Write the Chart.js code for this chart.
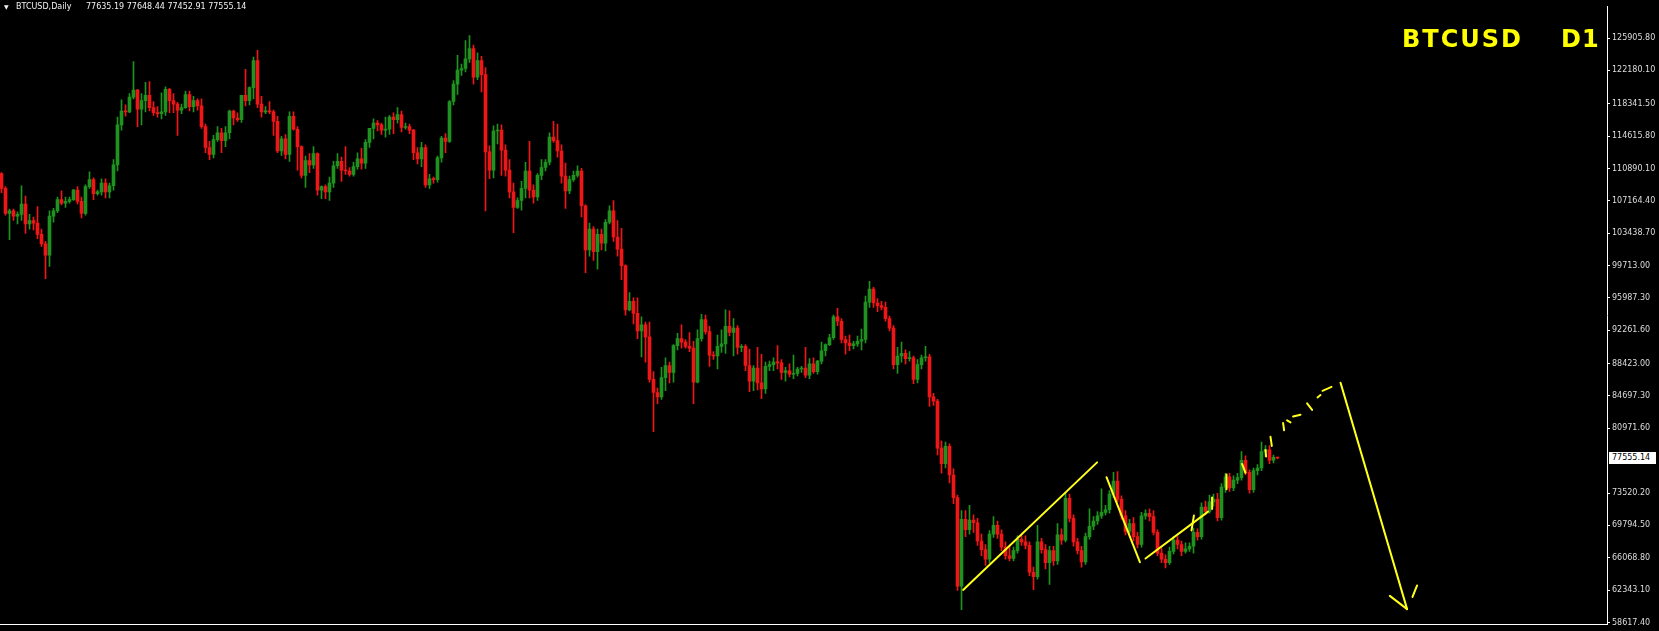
<!DOCTYPE html>
<html>
<head>
<meta charset="utf-8">
<script src="https://cdn.jsdelivr.net/npm/chart.js@4.4.1/dist/chart.umd.min.js"></script>
<style>
html,body{margin:0;padding:0;background:#000;overflow:hidden;}
#wrap{position:relative;width:1659px;height:631px;background:#000;}
canvas{display:block;}
.t{position:absolute;white-space:pre;font-family:"DejaVu Sans",sans-serif;}
#tri{left:4px;top:3px;font-size:6px;line-height:8px;color:#f2f2f2;}
#ttl{left:16px;top:3px;font-size:8px;line-height:8px;color:#f2f2f2;}
#ohlc{left:86px;top:3px;font-size:8px;line-height:8px;color:#f2f2f2;}
#sym,#tf{font-family:"DejaVu Sans",sans-serif;font-weight:bold;font-size:24px;line-height:24px;letter-spacing:2px;color:#ffff00;top:27px;}
#sym{left:1402px;}
#tf{left:1561px;letter-spacing:1px;}
#ptag{left:1609px;width:44px;height:12px;background:#ffffff;color:#000;font-size:8px;line-height:12px;padding-left:3px;}
</style>
</head>
<body>
<div id="wrap">
<canvas id="c" width="1659" height="631"></canvas>
<div class="t" id="tri">▼</div>
<div class="t" id="ttl"></div>
<div class="t" id="ohlc"></div>
<div class="t" id="sym"></div>
<div class="t" id="tf"></div>
<div class="t" id="ptag"></div>
</div>
<script>
// ---------- DATA ----------
const symbolName = 'BTCUSD';
const periodName = 'Daily';
const periodShort = 'D1';

const opens = [
110300,108600,105700,106000,105400,105600,106800,104500,104900,104600,
103300,102200,100900,105400,106000,107300,106900,107100,107300,108400,
107100,105700,108800,109600,108000,108200,109200,108200,108900,111300,
115900,117500,117400,119100,119900,117700,118700,119300,117900,117300,
117200,117400,120000,118700,118300,117600,117900,119400,118000,118700,
118100,115700,113300,112500,114200,115000,114100,115000,117500,116700,
116500,119300,118700,120200,123300,118300,117400,117500,117400,116300,
112900,114300,112500,116900,115400,113400,110100,111800,111300,112600,
108400,108800,108200,109200,111200,111700,110700,110600,110200,111100,
112000,111500,113900,115500,116100,115900,115300,115400,116800,116500,
117100,115600,115700,115300,112700,112000,113300,109000,109700,109600,
112100,114400,114000,118600,120600,122200,122400,123500,124700,121400,
123300,121700,112800,110700,115200,115300,113000,110700,108200,106400,
107200,108600,110600,108400,107600,110100,111000,111600,114500,114100,
112900,110000,108300,109600,110100,110600,106600,101500,103900,101300,
103300,102300,104700,106000,103000,101600,99700,94600,95600,94200,
92200,92900,91500,86600,85100,84600,86800,88200,87400,90500,
91300,90900,90400,90200,86300,91300,93500,92100,89400,89300,
90400,90700,92700,92000,92500,90300,90400,88200,86400,87900,
86200,85500,88100,88300,88600,88500,87400,87600,87200,87300,
87800,87900,87100,88400,87500,88700,89900,90600,91400,93800,
93300,91200,90800,90500,90700,91000,91200,95500,97000,95400,
95100,94900,93600,92500,88300,89300,89600,89000,89100,86600,
88300,89100,89200,84600,84100,78700,76900,78900,75600,73000,
62800,70500,69300,70400,70100,68000,67000,65900,68800,69800,
68800,67300,66300,66000,66900,68200,67900,67500,64400,63900,
67900,67000,65500,66900,65700,68700,68100,72900,70600,67900,
66900,65600,68500,69700,70300,70900,71300,71600,73400,74900,
72800,70900,69100,70000,68500,67600,70900,71200,70800,69000,
66600,65900,65500,66800,68100,67600,66800,67100,67400,69000,
68500,71900,71400,72500,72800,70700,74200,75400,74100,75000,
75300,77300,75900,73900,76100,76400,78300,78500,77300,77635.19];

const highs = [
110400,108800,106200,106200,105900,108900,107700,105600,105300,106500,
103900,102500,106000,106300,107600,108300,107600,107600,108500,108800,
107600,109000,110500,109800,108400,109700,109700,109200,111900,116800,
118800,118200,119500,123200,120000,119500,120800,120900,118600,118000,
119600,120300,120100,119500,118500,118300,119800,119800,119200,118900,
118900,116000,114000,114700,115700,115500,115700,117600,117600,117300,
119300,122300,120300,123700,124500,119200,118000,118600,117600,116900,
114600,114800,117400,117400,115700,113500,112300,112600,113400,112700,
108900,109000,109900,111700,112600,112200,113400,111000,111600,112700,
113200,114200,115500,116600,116400,116100,116800,117000,117300,117900,
117500,116100,116000,115400,113300,113900,113600,110200,109900,112300,
114600,114900,118700,121000,123900,122900,125600,126200,125100,124200,
123800,122500,113500,115800,116000,115900,113600,111900,109200,107500,
109400,111600,114000,109000,110300,111900,111900,115000,116300,116000,
113600,111500,110000,110600,111200,110900,106700,104600,104200,103900,
103900,105000,106600,107200,104900,104000,99800,96600,96000,96000,
93800,93200,93200,87500,85600,88000,89100,88600,90600,91900,
92900,91200,92000,91000,92300,94100,94000,92700,89800,91700,
92300,94600,94500,93600,92800,90600,90600,90100,88200,90300,
89500,88600,88700,89100,90500,88900,88000,88400,89400,88000,
88100,90300,89000,89100,88800,90900,90700,91800,94000,94800,
93600,91600,91700,91000,91600,92400,96200,97900,97200,95900,
95600,95500,93900,92800,90300,90900,90000,89800,89300,88900,
89400,90400,89500,85000,84300,79500,79400,79200,76300,73300,
71500,71500,72100,71000,70600,68800,67600,69200,70800,70300,
69300,67900,67400,67300,68600,68700,68600,67900,65000,69800,
68300,67600,67400,67400,70000,69400,73600,73400,71000,68300,
67400,68900,71700,70800,71400,74000,72100,73800,75900,76000,
73200,71500,70500,70700,69000,71300,71600,71700,71500,69300,
67200,66400,67300,68500,68500,68000,67800,67800,69500,69400,
72400,72600,73300,73400,73500,74600,75800,75800,75500,75800,
78300,77800,76200,76400,76800,79400,79000,79000,77900,77648.44];

const lows = [
108100,105500,102700,104900,104500,104900,103400,103900,103800,102800,
101900,98200,99600,104700,105800,106700,106400,106900,107200,106800,
105200,105500,108600,107300,107800,107800,107500,107500,108400,110600,
115300,116900,117300,118900,115700,115900,117400,117500,117000,116800,
116600,117000,117300,117300,114700,117200,117800,117500,117400,117600,
115500,112700,111900,112100,114000,112700,113400,114300,115900,116300,
116200,118100,118200,118900,117900,116800,117200,117200,114700,112700,
112400,112000,111700,115300,110700,109800,108700,110400,110900,107800,
107400,107400,107200,108700,110900,109400,110200,110000,110000,110800,
110800,110900,113300,114300,115200,114800,114500,114800,114900,116100,
115100,115400,114900,111900,111400,111100,108700,108600,109200,109300,
111600,112700,113900,118200,119400,121600,122000,123100,120600,121100,
119700,106000,109700,109800,113700,110100,110000,107500,103500,106300,
106100,107500,107500,106900,107200,109600,110600,111300,113900,112200,
109200,106300,108000,109400,109900,105300,98900,100800,100300,99300,
101500,101400,104500,102500,100800,98100,94000,94500,93000,91300,
89200,88600,86300,80600,83800,84300,85300,86200,86300,90000,
90200,90200,89800,83800,86200,91000,91800,88100,88900,87800,
89700,89600,91600,89300,89500,89800,87600,85200,85300,85400,
84400,85000,87600,87600,87800,86600,86400,86900,86700,87000,
87400,86800,86700,87300,87200,88400,89300,90500,91200,92800,
90800,89500,89900,90100,90400,90000,90800,94900,94900,94400,
94600,93300,92200,87800,87300,88600,88400,88700,86100,86200,
87800,88700,83500,83600,77900,75800,76400,74700,72300,62300,
60100,68500,68800,69000,67500,66300,65200,65500,68400,68300,
66900,65900,65700,65700,66600,67500,67100,64000,62400,63600,
66600,64800,63000,65200,65300,67600,67900,70200,67400,66500,
65000,65300,68200,69300,69900,70600,71000,71200,73000,72500,
70500,68700,68800,68000,67200,67300,70500,70300,68700,66300,
65500,64900,65300,66500,67100,66300,66600,66800,66600,68100,
68200,71000,71200,72000,70300,70400,73600,73700,73800,74600,
75000,75600,73500,73600,75600,76100,77700,76900,77000,77452.91];

const closes = [
108600,105700,106000,105400,105600,106800,104500,104900,104600,103300,
102200,100900,105400,106000,107300,106900,107100,107300,108400,107100,
105700,108800,109600,108000,108200,109200,108200,108900,111300,115900,
117500,117400,119100,119900,117700,118700,119300,117900,117300,117200,
117400,120000,118700,118300,117600,117900,119400,118000,118700,118100,
115700,113300,112500,114200,115000,114100,115000,117500,116700,116500,
119300,118700,120200,123300,118300,117400,117500,117400,116300,112900,
114300,112500,116900,115400,113400,110100,111800,111300,112600,108400,
108800,108200,109200,111200,111700,110700,110600,110200,111100,112000,
111500,113900,115500,116100,115900,115300,115400,116800,116500,117100,
115600,115700,115300,112700,112000,113300,109000,109700,109600,112100,
114400,114000,118600,120600,122200,122400,123500,124700,121400,123300,
121700,112800,110700,115200,115300,113000,110700,108200,106400,107200,
108600,110600,108400,107600,110100,111000,111600,114500,114100,112900,
110000,108300,109600,110100,110600,106600,101500,103900,101300,103300,
102300,104700,106000,103000,101600,99700,94600,95600,94200,92200,
92900,91500,86600,85100,84600,86800,88200,87400,90500,91300,
90900,90400,90200,86300,91300,93500,92100,89400,89300,90400,
90700,92700,92000,92500,90300,90400,88200,86400,87900,86200,
85500,88100,88300,88600,88500,87400,87600,87200,87300,87800,
87900,87100,88400,87500,88700,89900,90600,91400,93800,93300,
91200,90800,90500,90700,91000,91200,95500,97000,95400,95100,
94900,93600,92500,88300,89300,89600,89000,89100,86600,88300,
89100,89200,84600,84100,78700,76900,78900,75600,73000,62800,
70500,69300,70400,70100,68000,67000,65900,68800,69800,68800,
67300,66300,66000,66900,68200,67900,67500,64400,63900,67900,
67000,65500,66900,65700,68700,68100,72900,70600,67900,66900,
65600,68500,69700,70300,70900,71300,71600,73400,74900,72800,
70900,69100,70000,68500,67600,70900,71200,70800,69000,66600,
65900,65500,66800,68100,67600,66800,67100,67400,69000,68500,
71900,71400,72500,72800,70700,74200,75400,74100,75000,75300,
77300,75900,73900,76100,76400,78300,78500,77300,77635.19,77555.14];

// price axis labels
const yTickValues = [125905.80,122180.10,118341.50,114615.80,110890.10,107164.40,103438.70,
  99713.00,95987.30,92261.60,88423.00,84697.30,80971.60,73520.20,69794.50,66068.80,62343.10,58617.40];

// hand-drawn yellow objects: [barIndex, price] pairs
const trendUp1 = [[240.4, 62370], [273.9, 77050]];
const trendDown = [[276.25, 75350], [284.6, 65560]];
const trendUp2 = [[286.0, 65980], [301.65, 71380]];
const pathDashes = [
  [[297.5, 69220], [298.1, 70930]],
  [[302.65, 71690], [302.65, 73010]],
  [[306.25, 73950], [306.25, 75650]],
  [[310.15, 76870], [311.0, 75850]],
  [[316.0, 78490], [316.15, 77730]],
  [[317.25, 80000], [317.58, 78940]],
  [[320.4, 81580], [320.65, 80750]],
  [[321.4, 81890], [322.25, 81660]],
  [[322.9, 82340], [324.75, 82530]],
  [[326.4, 83850], [327.65, 83100]],
  [[329.0, 84530], [329.75, 84800]],
  [[330.25, 85290], [332.5, 85740]]
];
const forecastLine = [[334.75, 86230], [351.4, 60160]];
const arrowHead = [[347.08, 61680], [351.4, 60160]];
const arrowTick = [[352.75, 61560], [353.9, 62880]];

// ---------- BUILD ----------
const UP = '#1f931f', DOWN = '#ee1616', YEL = '#ffff1a';
const n = closes.length;
const idx = closes.map((_, i) => i);
const candleColors = idx.map(i => closes[i] >= opens[i] ? UP : DOWN);
const wickData = idx.map(i => ({x: i, y: [lows[i], highs[i]]}));
const bodyData = idx.map(i => ({x: i, y: [opens[i], closes[i]]}));

const drawings = [trendUp1, trendDown, trendUp2, ...pathDashes, forecastLine, arrowHead, arrowTick];
const lineSets = drawings.map(seg => ({
  type: 'line',
  data: seg.map(p => ({x: p[0], y: p[1]})),
  borderColor: YEL, borderWidth: 2, pointRadius: 0, fill: false, tension: 0,
  borderCapStyle: 'round', order: 0
}));

const chart = new Chart(document.getElementById('c'), {
  type: 'bar',
  data: {
    datasets: [
      {type: 'bar', data: wickData, backgroundColor: candleColors, barThickness: 1, grouped: false, borderWidth: 0, minBarLength: 1, order: 2},
      {type: 'bar', data: bodyData, backgroundColor: candleColors, barThickness: 3, grouped: false, borderWidth: 0, minBarLength: 1, order: 1},
      ...lineSets
    ]
  },
  options: {
    responsive: false, animation: false, devicePixelRatio: 1,
    layout: {padding: 0},
    plugins: {legend: {display: false}, tooltip: {enabled: false}, title: {display: false}},
    scales: {
      x: {
        type: 'linear', min: -0.375, max: 401.375, bounds: 'data', offset: false,
        grid: {display: false, drawTicks: false},
        ticks: {display: false},
        border: {display: true, color: '#ffffff', width: 1},
        afterFit: s => { s.height = 4; }
      },
      y: {
        type: 'linear', position: 'right', min: 58423, max: 129499, bounds: 'data',
        grid: {display: true, drawOnChartArea: false, drawTicks: true, tickLength: 3, tickColor: '#ffffff', color: '#ffffff'},
        border: {display: true, color: '#ffffff', width: 1},
        ticks: {autoSkip: false, padding: 2, color: '#dedede', font: {family: 'DejaVu Sans', size: 8},
                callback: v => Number(v).toFixed(2)},
        afterBuildTicks: s => { s.ticks = yTickValues.map(v => ({value: v})); },
        afterFit: s => { s.width = 52; }
      }
    }
  }
});

// ---------- TEXT OVERLAYS ----------
const last = n - 1;
document.getElementById('ttl').textContent = symbolName + ',' + periodName;
document.getElementById('ohlc').textContent =
  [opens[last], highs[last], lows[last], closes[last]].map(v => v.toFixed(2)).join(' ');
document.getElementById('sym').textContent = symbolName;
document.getElementById('tf').textContent = periodShort;
const tag = document.getElementById('ptag');
tag.textContent = closes[last].toFixed(2);
const py = chart.scales.y.getPixelForValue(closes[last]);
tag.style.top = (py - 6) + 'px';
</script>
</body>
</html>
